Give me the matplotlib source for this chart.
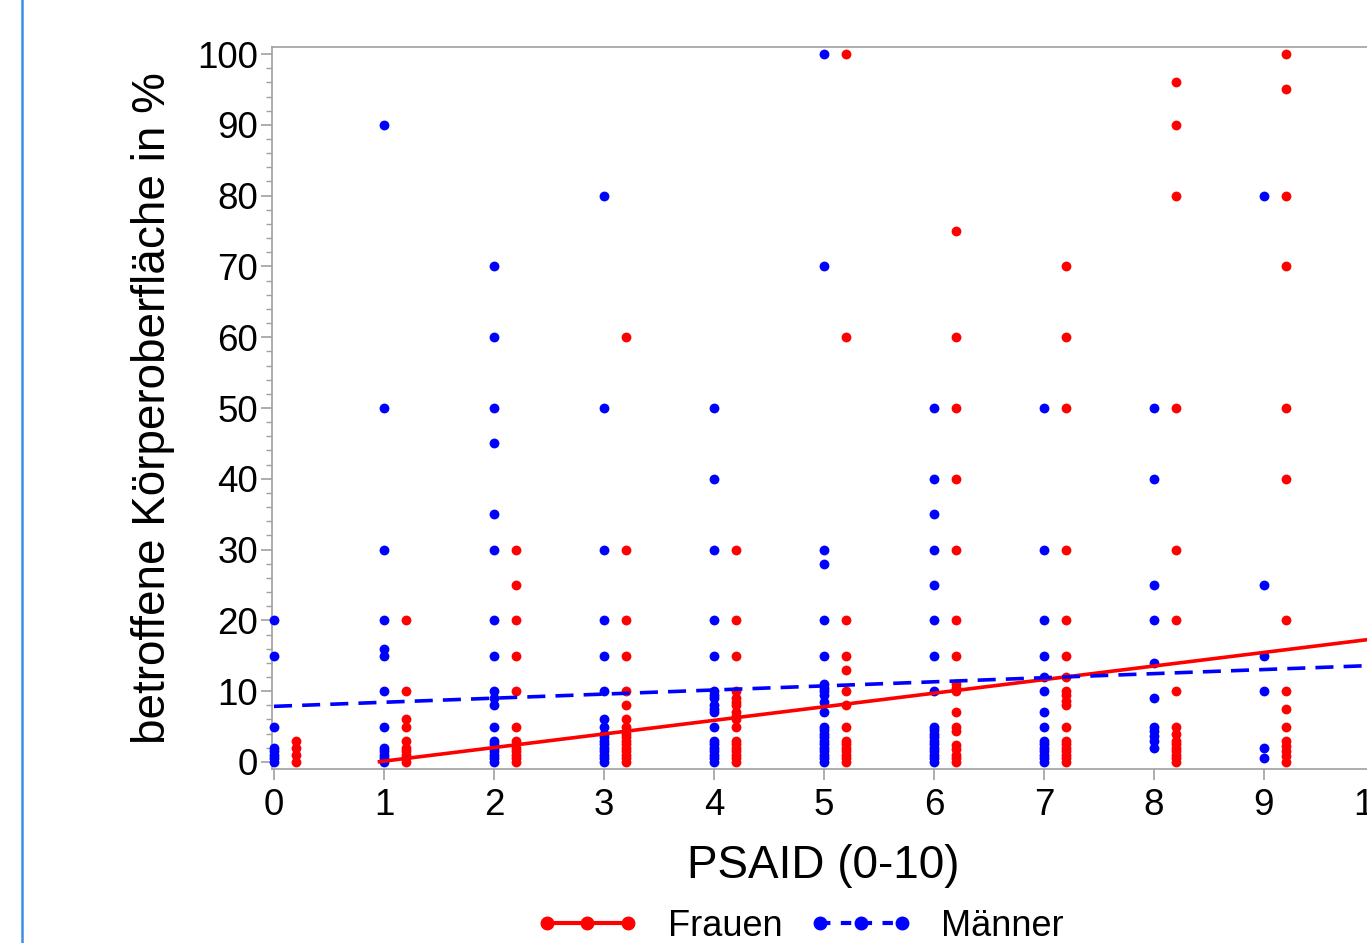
import matplotlib
matplotlib.use("Agg")
import matplotlib.pyplot as plt
from matplotlib.lines import Line2D
from matplotlib.ticker import MultipleLocator
import numpy as np

plt.rcParams['font.family'] = ['Liberation Sans', 'DejaVu Sans']

# ---- data ----
psaid_levels = [0, 1, 2, 3, 4, 5, 6, 7, 8, 9]

maenner_values = [
    [20, 15, 5, 2, 1.5, 1, 0.5, 0],
    [90, 50, 30, 20, 16, 15, 10, 5, 2, 1.5, 1, 0.5, 0],
    [70, 60, 50, 45, 35, 30, 20, 15, 10, 9, 8, 5, 3, 2.5, 2, 1.5, 1, 0.5, 0],
    [80, 50, 30, 20, 15, 10, 6, 5, 4, 3.5, 3, 2.5, 2, 1.5, 1, 0.5, 0],
    [50, 40, 30, 20, 15, 10, 9.5, 9, 8, 7.5, 7, 5, 3, 2.5, 2, 1.5, 1, 0.5, 0],
    [100, 70, 30, 28, 20, 15, 11, 10.5, 10, 9.5, 8.5, 7, 5, 4.5, 4, 3.5, 3, 2.5, 2, 1.5, 1, 0.5, 0],
    [50, 40, 35, 30, 25, 20, 15, 10, 5, 4.5, 4, 3.5, 3, 2.5, 2, 1.5, 1, 0.5, 0],
    [50, 30, 20, 15, 12, 10, 7, 5, 3, 2.5, 2, 1.5, 1, 0.5, 0],
    [50, 40, 25, 20, 14, 9, 5, 4.3, 3.6, 2.9, 2],
    [80, 25, 15, 10, 2, 0.5],
]

frauen_values = [
    [3, 2, 1, 0],
    [20, 10, 6, 5, 3, 2, 1.5, 1, 0.5, 0],
    [30, 25, 20, 15, 10, 5, 3, 2, 1.5, 1, 0.5, 0],
    [60, 30, 20, 15, 10, 8, 6, 5, 4, 3.5, 3, 2.5, 2, 1.5, 1, 0.5, 0],
    [30, 20, 15, 10, 9, 8.5, 8, 7, 6.5, 6, 5, 3, 2.5, 2, 1.5, 1, 0.5, 0],
    [100, 60, 20, 15, 13, 10, 8, 5, 3, 2.5, 2, 1.5, 1, 0.5, 0],
    [75, 60, 50, 40, 30, 20, 15, 11, 10.5, 10, 7, 5, 4.4, 2.4, 1.8, 1, 0.5, 0],
    [70, 60, 50, 30, 20, 15, 12, 10, 9.4, 8.6, 8, 5, 3, 2.5, 2, 1.5, 1, 0.5, 0],
    [96, 90, 80, 50, 30, 20, 10, 5, 4, 3, 2.5, 2, 1.5, 1, 0.5, 0],
    [100, 95, 80, 70, 50, 40, 20, 10, 7.5, 5, 3, 2.2, 1.5, 0.8, 0],
]

# regression lines (intercept, slope)
frauen_fit = (-1.81, 1.92)
maenner_fit = (7.85, 0.578)

xtick_labels = ['0', '1', '2', '3', '4', '5', '6', '7', '8', '9', '10']
ytick_labels = ['0', '10', '20', '30', '40', '50', '60', '70', '80', '90', '100']

RED = '#ff0000'
BLUE = '#0000ff'
GRAY = '#a0a0a0'

fig = plt.figure(figsize=(13.67, 9.43), dpi=100)
ax = fig.add_axes([272 / 1367, 174 / 943, 1102 / 1367, 722 / 943])

frauen_offset = 0.2

mx, my = [], []
for lvl, vals in zip(psaid_levels, maenner_values):
    mx += [lvl] * len(vals)
    my += vals
fx, fy = [], []
for lvl, vals in zip(psaid_levels, frauen_values):
    fx += [lvl + frauen_offset] * len(vals)
    fy += vals

ax.scatter(mx, my, s=50, color=BLUE, linewidths=0, zorder=3, clip_on=False)
ax.scatter(fx, fy, s=50, color=RED, linewidths=0, zorder=3, clip_on=False)

# fit lines
b0, b1 = frauen_fit
xs_f = np.array([-b0 / b1, 10.2])
ax.plot(xs_f, b0 + b1 * xs_f, color=RED, lw=2.6, zorder=4, solid_capstyle='butt')
a0, a1 = maenner_fit
xs_m = np.array([0, 10.2])
ax.plot(xs_m, a0 + a1 * xs_m, color=BLUE, lw=2.6, zorder=4,
        dashes=(5, 2.8), dash_capstyle='butt')

ax.set_xlim(-0.018, 10.0)
ax.set_ylim(-1, 101)
ax.set_xticks(range(len(xtick_labels)))
ax.set_xticklabels(xtick_labels)
ax.set_yticks(range(0, 101, 10))
ax.set_yticklabels(ytick_labels)
ax.yaxis.set_minor_locator(MultipleLocator(2))

for side in ['left', 'bottom', 'top', 'right']:
    ax.spines[side].set_color(GRAY)
    ax.spines[side].set_linewidth(1.2)

ax.tick_params(axis='both', which='major', labelsize=26.5, colors=GRAY,
               labelcolor='black', length=8, width=1.2, direction='out')
ax.tick_params(axis='x', pad=6)
ax.tick_params(axis='y', pad=2)
ax.tick_params(axis='y', which='minor', colors=GRAY, length=4, width=1.0)

ax.set_xlabel('PSAID (0-10)', fontsize=33, labelpad=15)
ax.set_ylabel('betroffene Körperoberfläche in %', fontsize=33, labelpad=16)

handles = [
    Line2D([0], [0], color=RED, lw=3, marker='o', markersize=9, linestyle='-'),
    Line2D([0], [0], color=BLUE, lw=3, marker='o', markersize=9, dashes=(2.5, 2.5)),
]
fig.legend(handles, ['Frauen', 'Männer'], loc='center', bbox_to_anchor=(800 / 1367, 0.018),
           ncol=2, frameon=False, fontsize=26, numpoints=3, handlelength=2.85,
           handletextpad=0.8, columnspacing=0.75)

fig.add_artist(Line2D([22 / 1367, 22 / 1367], [0, 1], color='#3b8ee5', lw=1.8,
                      transform=fig.transFigure))

fig.savefig('out.png', dpi=100)
